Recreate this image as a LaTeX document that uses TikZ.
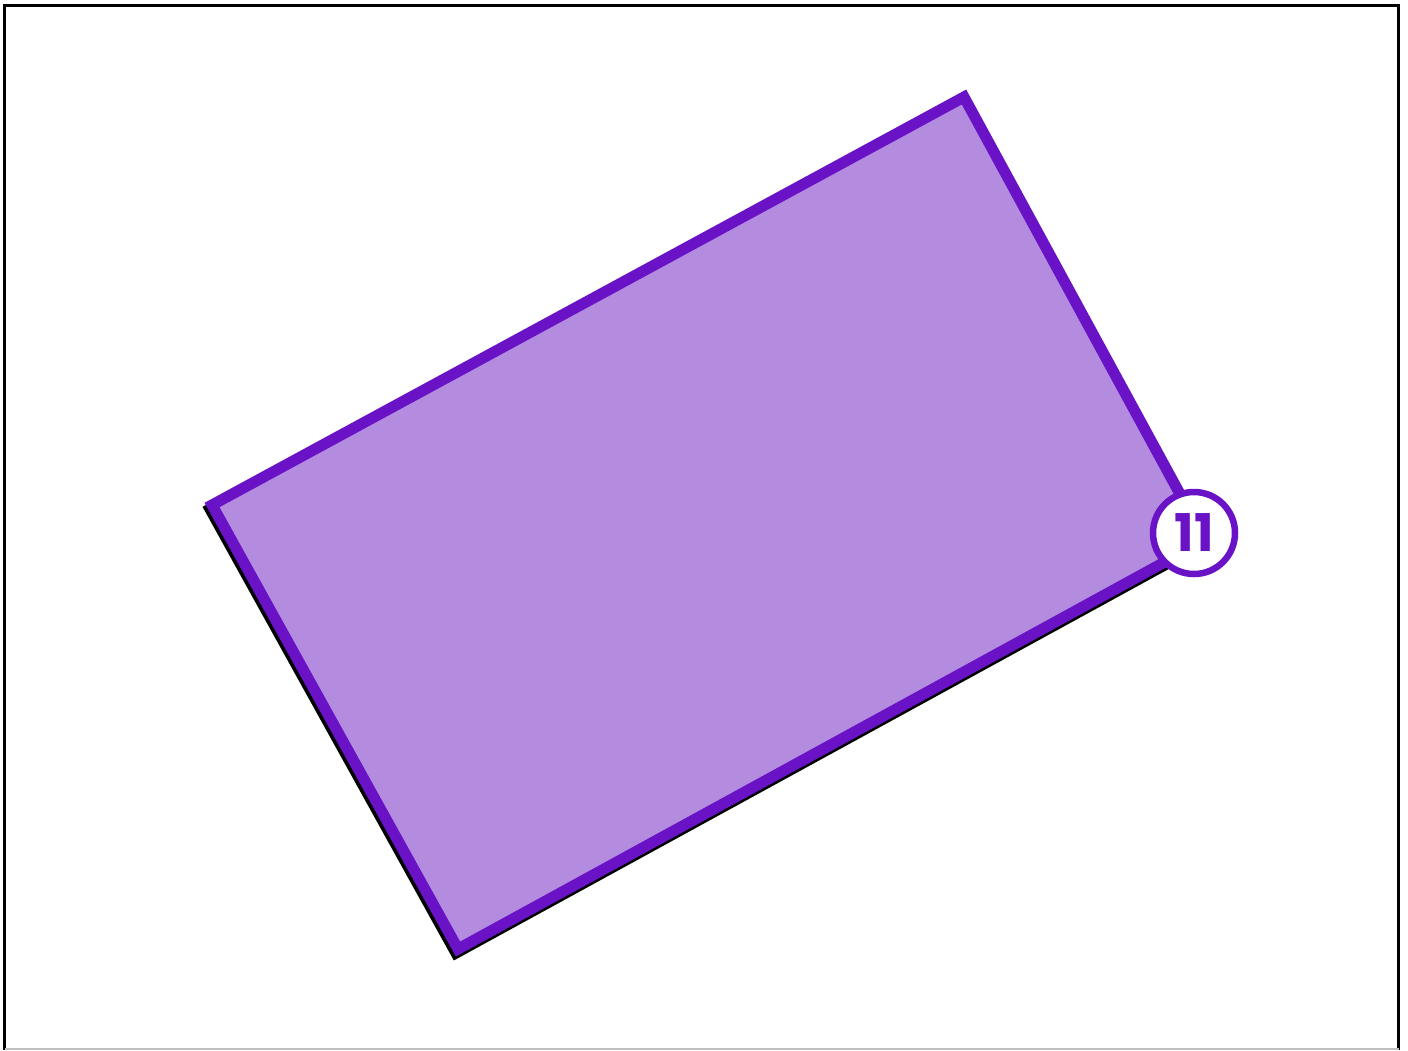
\documentclass[tikz,border=0pt]{standalone}
\usepackage{fontspec}
\newfontfamily\popfont{Poppins}
\definecolor{edgepurple}{HTML}{6A12C6}
\definecolor{fillpurple}{HTML}{B48CDF}
\begin{document}
\begin{tikzpicture}[x=1pt,y=-1pt,
  plotshape/.style={draw=edgepurple,fill=fillpurple,line width=11pt,line join=miter},
  shadowshape/.style={draw=black,fill=black,line width=11pt,line join=miter},
  badge/.style={circle,draw=edgepurple,fill=white,line width=6.5pt,minimum size=82pt,inner sep=0pt,
    text=edgepurple,font=\popfont\bfseries\fontsize{52}{52}\selectfont}]
\useasboundingbox (0,0) rectangle (1408,1050);
\fill[white] (0,0) rectangle (1408,1050);
\draw[black,line width=3pt] (4.5,1050) -- (4.5,5.5) -- (1398.5,5.5) -- (1398.5,1050);
\draw[black!25,line width=1.5pt] (4.5,1049) -- (1398.5,1049);
\coordinate (A) at (212,505);
\coordinate (B) at (964,97);
\coordinate (C) at (1205,540);
\coordinate (D) at (458,949);
\draw[shadowshape] ([shift={(-2,4)}]A) -- ([shift={(-2,4)}]B) -- ([shift={(-2,4)}]C) -- ([shift={(-2,4)}]D) -- cycle;
\draw[plotshape] (A) -- (B) -- (C) -- (D) -- cycle;
\node[badge] (n11) at (1194,533) {11};
\end{tikzpicture}
\end{document}
